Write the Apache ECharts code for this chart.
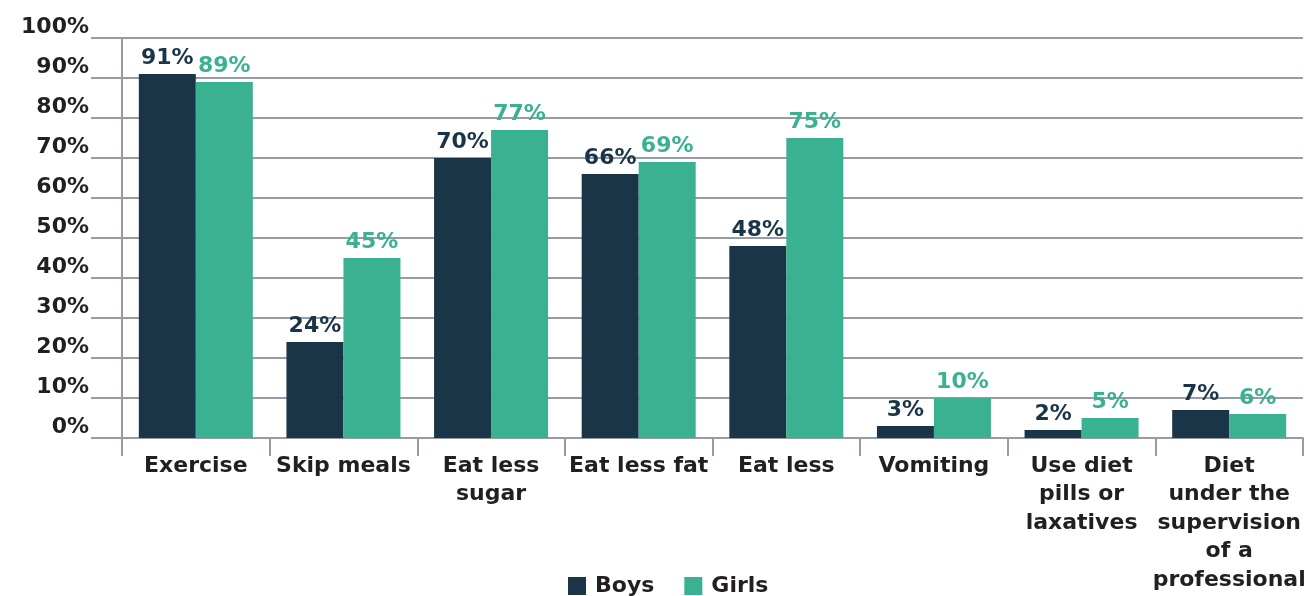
<!DOCTYPE html>
<html>
<head>
<meta charset="utf-8">
<script src="https://cdn.jsdelivr.net/npm/echarts@6/dist/echarts.min.js"></script>
<style>
  html, body { margin: 0; padding: 0; background: #fff; }
  #chart { width: 1305px; height: 596px; }
</style>
</head>
<body>
<div id="chart"></div>
<script>
const categories = ['Exercise', 'Skip meals', 'Eat less\nsugar', 'Eat less fat', 'Eat less', 'Vomiting',
  'Use diet\npills or\nlaxatives', 'Diet\nunder the\nsupervision\nof a\nprofessional'];
const boys = [91, 24, 70, 66, 48, 3, 2, 7];
const girls = [89, 45, 77, 69, 75, 10, 5, 6];
const yTicks = [0, 100, 10]; // min, max, step

const font = 'DejaVu Sans, sans-serif';
const gridColor = '#969ba6';
const textColor = '#231f20';

const myChart = echarts.init(document.getElementById('chart'));
const option = {
  animation: false,
  textStyle: { fontFamily: font },
  grid: { left: 122, right: 2, top: 38, bottom: 158, outerBoundsMode: 'none', containLabel: false },
  legend: {
    top: 570,
    left: 563,
    itemWidth: 18,
    itemHeight: 18,
    itemGap: 30,
    icon: 'rect',
    textStyle: { fontFamily: font, fontSize: 22, fontWeight: 'bold', color: textColor, padding: [2, 0, 0, 4] },
    data: ['Boys', 'Girls'],
  },
  xAxis: {
    type: 'category',
    data: categories,
    axisLine: { lineStyle: { color: gridColor, width: 2 } },
    axisTick: { show: true, length: 18, lineStyle: { color: gridColor, width: 2 } },
    axisLabel: {
      interval: 0,
      margin: 14,
      fontFamily: font,
      fontSize: 22,
      fontWeight: 'bold',
      color: textColor,
      lineHeight: 28.5,
      align: 'center',
    },
  },
  yAxis: {
    type: 'value',
    min: yTicks[0],
    max: yTicks[1],
    interval: yTicks[2],
    axisLine: { show: true, lineStyle: { color: gridColor, width: 2 } },
    axisTick: { show: true, length: 31, lineStyle: { color: gridColor, width: 2 } },
    splitLine: { lineStyle: { color: gridColor, width: 2 } },
    axisLabel: {
      margin: 33,
      fontFamily: font,
      fontSize: 22,
      fontWeight: 'bold',
      color: textColor,
      verticalAlign: 'bottom',
      formatter: '{value}%',
    },
  },
  series: [
    {
      name: 'Boys',
      type: 'bar',
      data: boys,
      barWidth: 57,
      barGap: '0%',
      itemStyle: { color: '#1b3548' },
      label: {
        show: true,
        position: 'top',
        distance: 5,
        formatter: '{c}%',
        fontFamily: font,
        fontSize: 22,
        fontWeight: 'bold',
        color: '#1b3548',
      },
    },
    {
      name: 'Girls',
      type: 'bar',
      data: girls,
      barWidth: 57,
      barGap: '0%',
      itemStyle: { color: '#3ab190' },
      label: {
        show: true,
        position: 'top',
        distance: 5,
        formatter: '{c}%',
        fontFamily: font,
        fontSize: 22,
        fontWeight: 'bold',
        color: '#3ab190',
      },
    },
  ],
};

myChart.setOption(option);
</script>
</body>
</html>
